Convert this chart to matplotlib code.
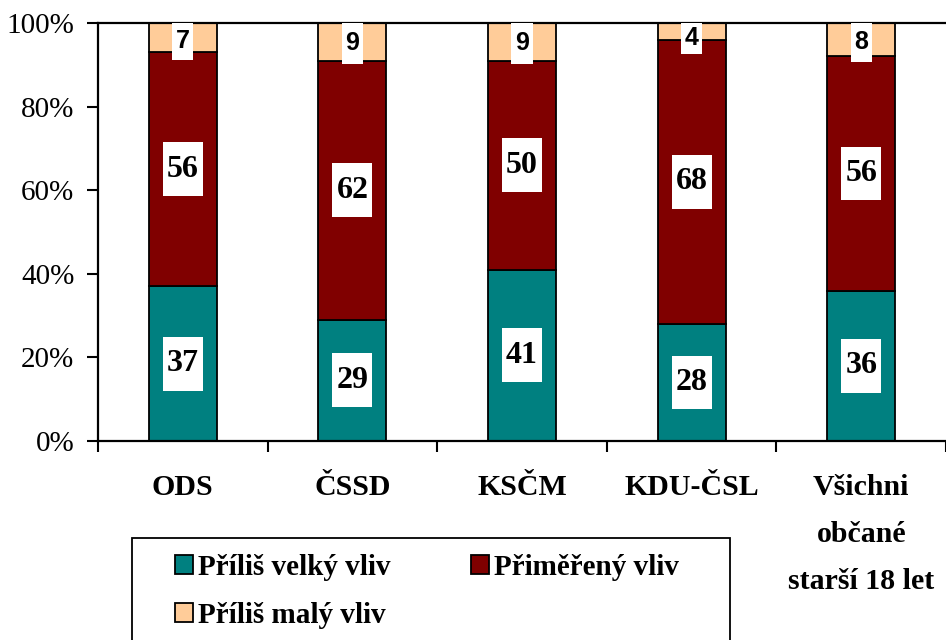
import matplotlib
matplotlib.use('Agg')
import matplotlib.pyplot as plt
from matplotlib.patches import Rectangle

# data (percent)
parties = ['ODS', 'ČSSD', 'KSČM', 'KDU-ČSL', 'Všichni\nobčané\nstarší 18 let']
too_big = [37, 29, 41, 28, 36]
adequate = [56, 62, 50, 68, 56]
too_small = [7, 9, 9, 4, 8]
series_names = ['Příliš velký vliv', 'Přiměřený vliv', 'Příliš malý vliv']
colors = ['#008080', '#800000', '#FFCC99']
yticks = [0, 20, 40, 60, 80, 100]

plt.rcParams['font.family'] = ['Liberation Serif', 'DejaVu Serif']

fig = plt.figure(figsize=(9.46, 6.4), dpi=100)
ax = fig.add_axes([98 / 946, 1 - 441 / 640, 1 - 98 / 946, (441 - 23) / 640])

x = list(range(len(parties)))
width = 0.4
bottoms2 = too_big
bottoms3 = [a + b for a, b in zip(too_big, adequate)]

b1 = ax.bar(x, too_big, width, color=colors[0], edgecolor='black', linewidth=1.3, zorder=2)
b2 = ax.bar(x, adequate, width, bottom=bottoms2, color=colors[1], edgecolor='black', linewidth=1.3, zorder=2)
b3 = ax.bar(x, too_small, width, bottom=bottoms3, color=colors[2], edgecolor='black', linewidth=1.3, zorder=2)

ax.set_xlim(-0.5, len(parties) - 0.5)
ax.set_ylim(0, 100)

# white label boxes for the two big segments
box_w = 0.235
box_h = 12.9
for i in x:
    for val, bot in ((too_big[i], 0), (adequate[i], bottoms2[i])):
        yc = bot + val / 2
        ax.add_patch(Rectangle((i - box_w / 2, yc - box_h / 2), box_w, box_h,
                               facecolor='white', edgecolor='none', zorder=3))
        ax.text(i, yc, str(val), ha='center', va='center', fontsize=23,
                fontweight='bold', zorder=4)

# small top segment labels: box pushed inside the plot area
small_w = 0.125
for i in x:
    yc = bottoms3[i] + too_small[i] / 2
    low = yc - 5.3
    ax.add_patch(Rectangle((i - small_w / 2, low), small_w, 100 - low,
                           facecolor='white', edgecolor='none', zorder=3))
    ax.text(i, (100 + low) / 2, str(too_small[i]), ha='center', va='center',
            fontsize=18, fontweight='bold', zorder=4,
            family=['Liberation Sans Narrow', 'Liberation Sans', 'DejaVu Sans'])

ax.set_yticks(yticks)
ax.set_yticklabels([f'{t}%' for t in yticks], fontsize=21)
ax.set_xticks(x)
ax.set_xticklabels(parties, fontsize=21.5, fontweight='bold', linespacing=1.95)
ax.set_xticks([i - 0.5 for i in range(len(parties) + 1)], minor=True)
ax.tick_params(axis='x', which='major', length=0, pad=24)
ax.tick_params(axis='x', which='minor', length=8, width=1.5, direction='out')
ax.tick_params(axis='y', length=8, width=1.5, direction='out', pad=9)

for side in ('left', 'bottom', 'top'):
    ax.spines[side].set_linewidth(1.6)
ax.spines['right'].set_visible(False)

# legend: frame drawn separately, entries placed inside it
fig.patches.append(Rectangle((132 / 946, -0.05), (730 - 132) / 946, 1 - 538 / 640 + 0.05,
                             transform=fig.transFigure, facecolor='white',
                             edgecolor='black', linewidth=1.3, zorder=1))
handles = [b1, b3, b2]
labels = [series_names[0], series_names[2], series_names[1]]
leg = fig.legend(handles, labels, loc='upper left',
                 bbox_to_anchor=(175 / 946, 1 - 554 / 640), borderaxespad=0,
                 ncol=2, frameon=False,
                 prop={'size': 21, 'weight': 'bold'},
                 handlelength=0.6, handleheight=0.6, handletextpad=0.2,
                 columnspacing=2.75, labelspacing=0.72, borderpad=0)

fig.savefig('out.png', dpi=100)
